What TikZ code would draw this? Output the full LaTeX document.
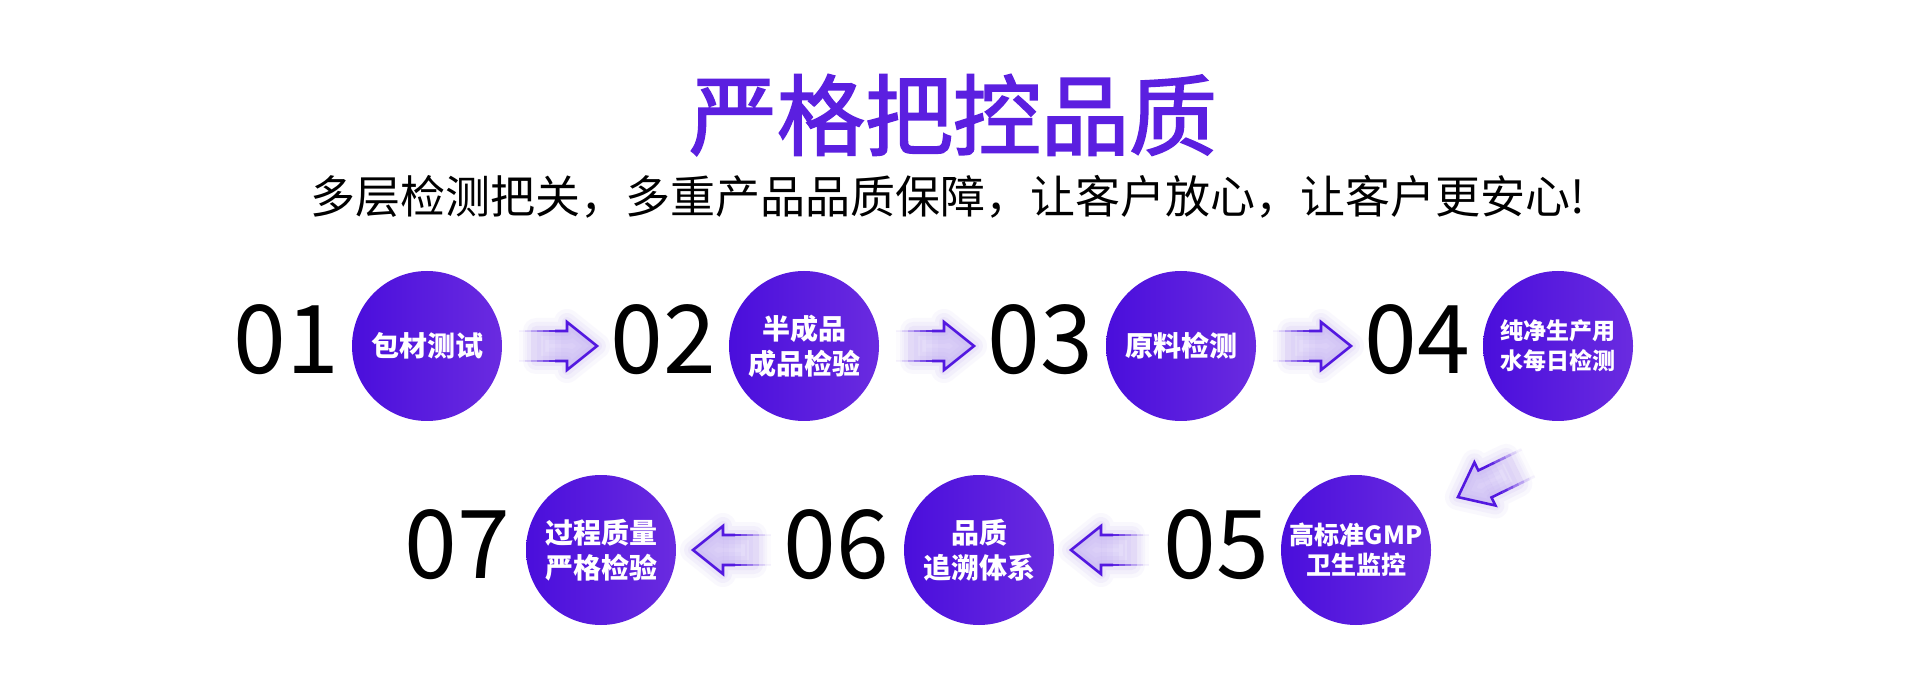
\documentclass[tikz,border=0pt]{standalone}
\usepackage{fontspec}
\setmainfont{Noto Sans CJK SC}
\newfontfamily\titlefont{Noto Sans CJK SC}[FakeBold=2]
\definecolor{titlec}{HTML}{5B1FE0}
\definecolor{cleft}{HTML}{4A0EDC}
\definecolor{cright}{HTML}{6A2BE0}
\definecolor{arrline}{HTML}{5318E0}
\definecolor{arrfill}{HTML}{B49CF0}
\tikzset{
  ball/.style={circle, minimum size=150pt, inner sep=0pt, left color=cleft, right color=cright,
    text=white, align=center, font=\bfseries\fontsize{28}{35}\selectfont},
  num/.style={font=\fontsize{95}{100}\selectfont, text=black, inner sep=0pt},
  flowarrow/.pic={
    \foreach \w/\o in {26/0.07,18/0.09,10/0.11}{
      \draw[arrfill, line width=\w pt, line join=round, opacity=\o]
        (-22,-15) -- (9,-15) -- (9,-24) -- (39,0) -- (9,24) -- (9,15) -- (-22,15) -- cycle;
    }
    \foreach \i/\o in {0/0.04,1/0.08,2/0.14,3/0.22,4/0.3,5/0.38,6/0.44,7/0.48}{
      \fill[arrfill, opacity=\o] ({-39+6*\i},-15) rectangle ({-33+6*\i},15);
    }
    \fill[arrfill, opacity=0.48] (9,-24) -- (39,0) -- (9,24) -- cycle;
    \foreach \a/\b/\o in {-39/-33/0.05,-33/-27/0.15,-27/-21/0.3,-21/-15/0.5,-15/-9/0.7,-9/-3/0.9}{
      \draw[arrline, line width=2.6pt, opacity=\o] (\a,-15) -- (\b,-15) (\a,15) -- (\b,15);
    }
    \draw[arrline, line width=2.6pt, line join=miter]
      (-3,-15) -- (9,-15) -- (9,-24) -- (39,0) -- (9,24) -- (9,15) -- (-3,15);
  }
}
\begin{document}
\begin{tikzpicture}[x=1pt,y=-1pt]
\useasboundingbox[fill=white] (0,0) rectangle (1920,692);
% titles
\node[text=titlec, font=\titlefont\fontsize{88}{100}\selectfont, inner sep=0pt] (title) at (953,115) {严格把控品质};
\node[text=black, font=\fontsize{45}{50}\selectfont, inner sep=0pt] (sub) at (948,197) {多层检测把关，多重产品品质保障，让客户放心，让客户更安心!};
% row 1
\node[num] (n1) at (286,340) {01};
\node[ball] (c1) at (427,346) {包材测试};
\node[num] (n2) at (663,340) {02};
\node[ball] (c2) at (804,346) {半成品\\成品检验};
\node[num] (n3) at (1040,340) {03};
\node[ball] (c3) at (1181,346) {原料检测};
\node[num] (n4) at (1417,340) {04};
\node[ball, font=\bfseries\fontsize{23}{30}\selectfont] (c4) at (1558,346) {纯净生产用\\水每日检测};
% row 2
\node[num] (n7) at (457,545) {07};
\node[ball] (c7) at (601,550) {过程质量\\严格检验};
\node[num] (n6) at (836,545) {06};
\node[ball] (c6) at (979,550) {品质\\追溯体系};
\node[num] (n5) at (1216,545) {05};
\node[ball, font=\bfseries\fontsize{25}{30}\selectfont] (c5) at (1356,550) {高标准GMP\\卫生监控};
% arrows
\pic at (558,346) {flowarrow};
\pic at (935,346) {flowarrow};
\pic at (1312,346) {flowarrow};
\pic[rotate=206] at (1493,480) {flowarrow};
\pic[rotate=180] at (1110,550) {flowarrow};
\pic[rotate=180] at (732,550) {flowarrow};
\end{tikzpicture}
\end{document}
